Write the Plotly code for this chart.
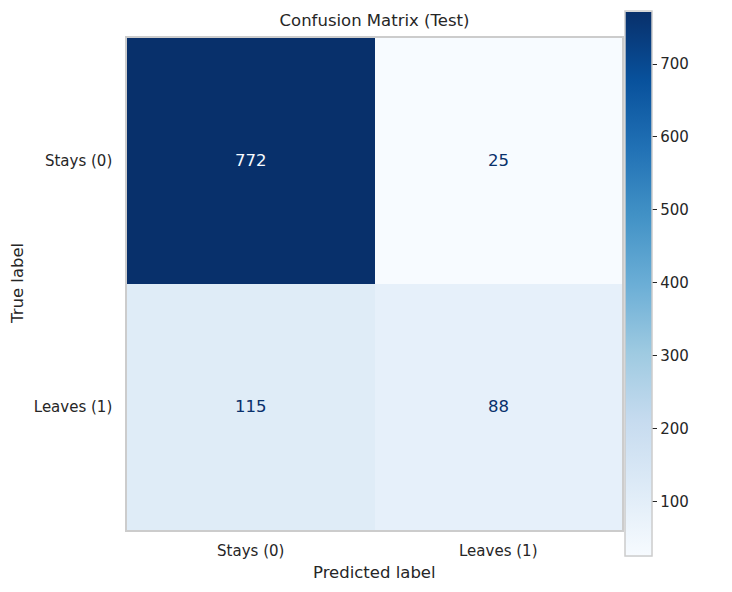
import plotly.graph_objects as go
import plotly.colors as pc

# ---- data ----
class_labels = ["Stays (0)", "Leaves (1)"]
cm_values = [
    [772, 25],
    [115, 88],
]
cbar_ticks = [100, 200, 300, 400, 500, 600, 700]

# ---- style ----
BLUES = pc.sequential.Blues  # same colorbrewer ramp as matplotlib's Blues
TXT = "#262626"
EDGE = "#cccccc"
FONT = "DejaVu Sans"

flat = [v for row in cm_values for v in row]
vmin, vmax = min(flat), max(flat)
thresh = (vmin + vmax) / 2.0

fig = go.Figure()
fig.add_trace(go.Heatmap(
    z=cm_values,
    x=class_labels,
    y=class_labels,
    colorscale=BLUES,
    zmin=vmin, zmax=vmax,
    hovertemplate="True: %{y}<br>Pred: %{x}<br>Count: %{z}<extra></extra>",
    colorbar=dict(
        x=1.006, xanchor="left", xpad=0,
        y=0.5, yanchor="middle", ypad=0,
        thickness=27,
        len=545, lenmode="pixels",
        outlinecolor=EDGE, outlinewidth=1.5,
        tickvals=cbar_ticks,
        ticks="outside", ticklen=5, tickwidth=1.3, tickcolor=TXT,
        tickfont=dict(family=FONT, size=15, color=TXT),
    ),
))

# cell counts, coloured like sklearn's ConfusionMatrixDisplay
for i, true_lab in enumerate(class_labels):
    for j, pred_lab in enumerate(class_labels):
        v = cm_values[i][j]
        fig.add_annotation(
            x=pred_lab, y=true_lab, text=str(v), showarrow=False, yshift=1,
            font=dict(family=FONT, size=16.5,
                      color=BLUES[0] if v > thresh else BLUES[-1]),
        )

# axis titles placed by hand (automargin off so the plot box stays put)
fig.add_annotation(text="Predicted label", xref="paper", yref="paper",
                   x=0.5, y=0, yanchor="middle", yshift=-42, showarrow=False,
                   font=dict(family=FONT, size=16.5, color=TXT))
fig.add_annotation(text="True label", xref="paper", yref="paper",
                   x=0, y=0.5, xanchor="center", xshift=-110, textangle=-90,
                   showarrow=False,
                   font=dict(family=FONT, size=16.5, color=TXT))

# page body adds ~8px offset, so margins are trimmed on top/left
fig.update_layout(
    width=732, height=592,
    margin=dict(l=119, r=118, t=27, b=70),
    plot_bgcolor="white", paper_bgcolor="white",
    font=dict(family=FONT, color=TXT),
    title=dict(
        text="Confusion Matrix (Test)",
        x=0.5, xref="paper", xanchor="center",
        y=1 - 12 / 592, yref="container", yanchor="middle",
        font=dict(family=FONT, size=16.5, color=TXT),
    ),
    xaxis=dict(
        tickfont=dict(family=FONT, size=15, color=TXT),
        showgrid=False, zeroline=False, automargin=False,
        showline=True, mirror=True, linecolor=EDGE, linewidth=1.5,
        ticks="", ticklabelstandoff=6,
    ),
    yaxis=dict(
        tickfont=dict(family=FONT, size=15, color=TXT),
        autorange="reversed", automargin=False,
        showgrid=False, zeroline=False,
        showline=True, mirror=True, linecolor=EDGE, linewidth=1.5,
        ticks="", ticklabelstandoff=10,
    ),
)

fig.write_html("out.html")
